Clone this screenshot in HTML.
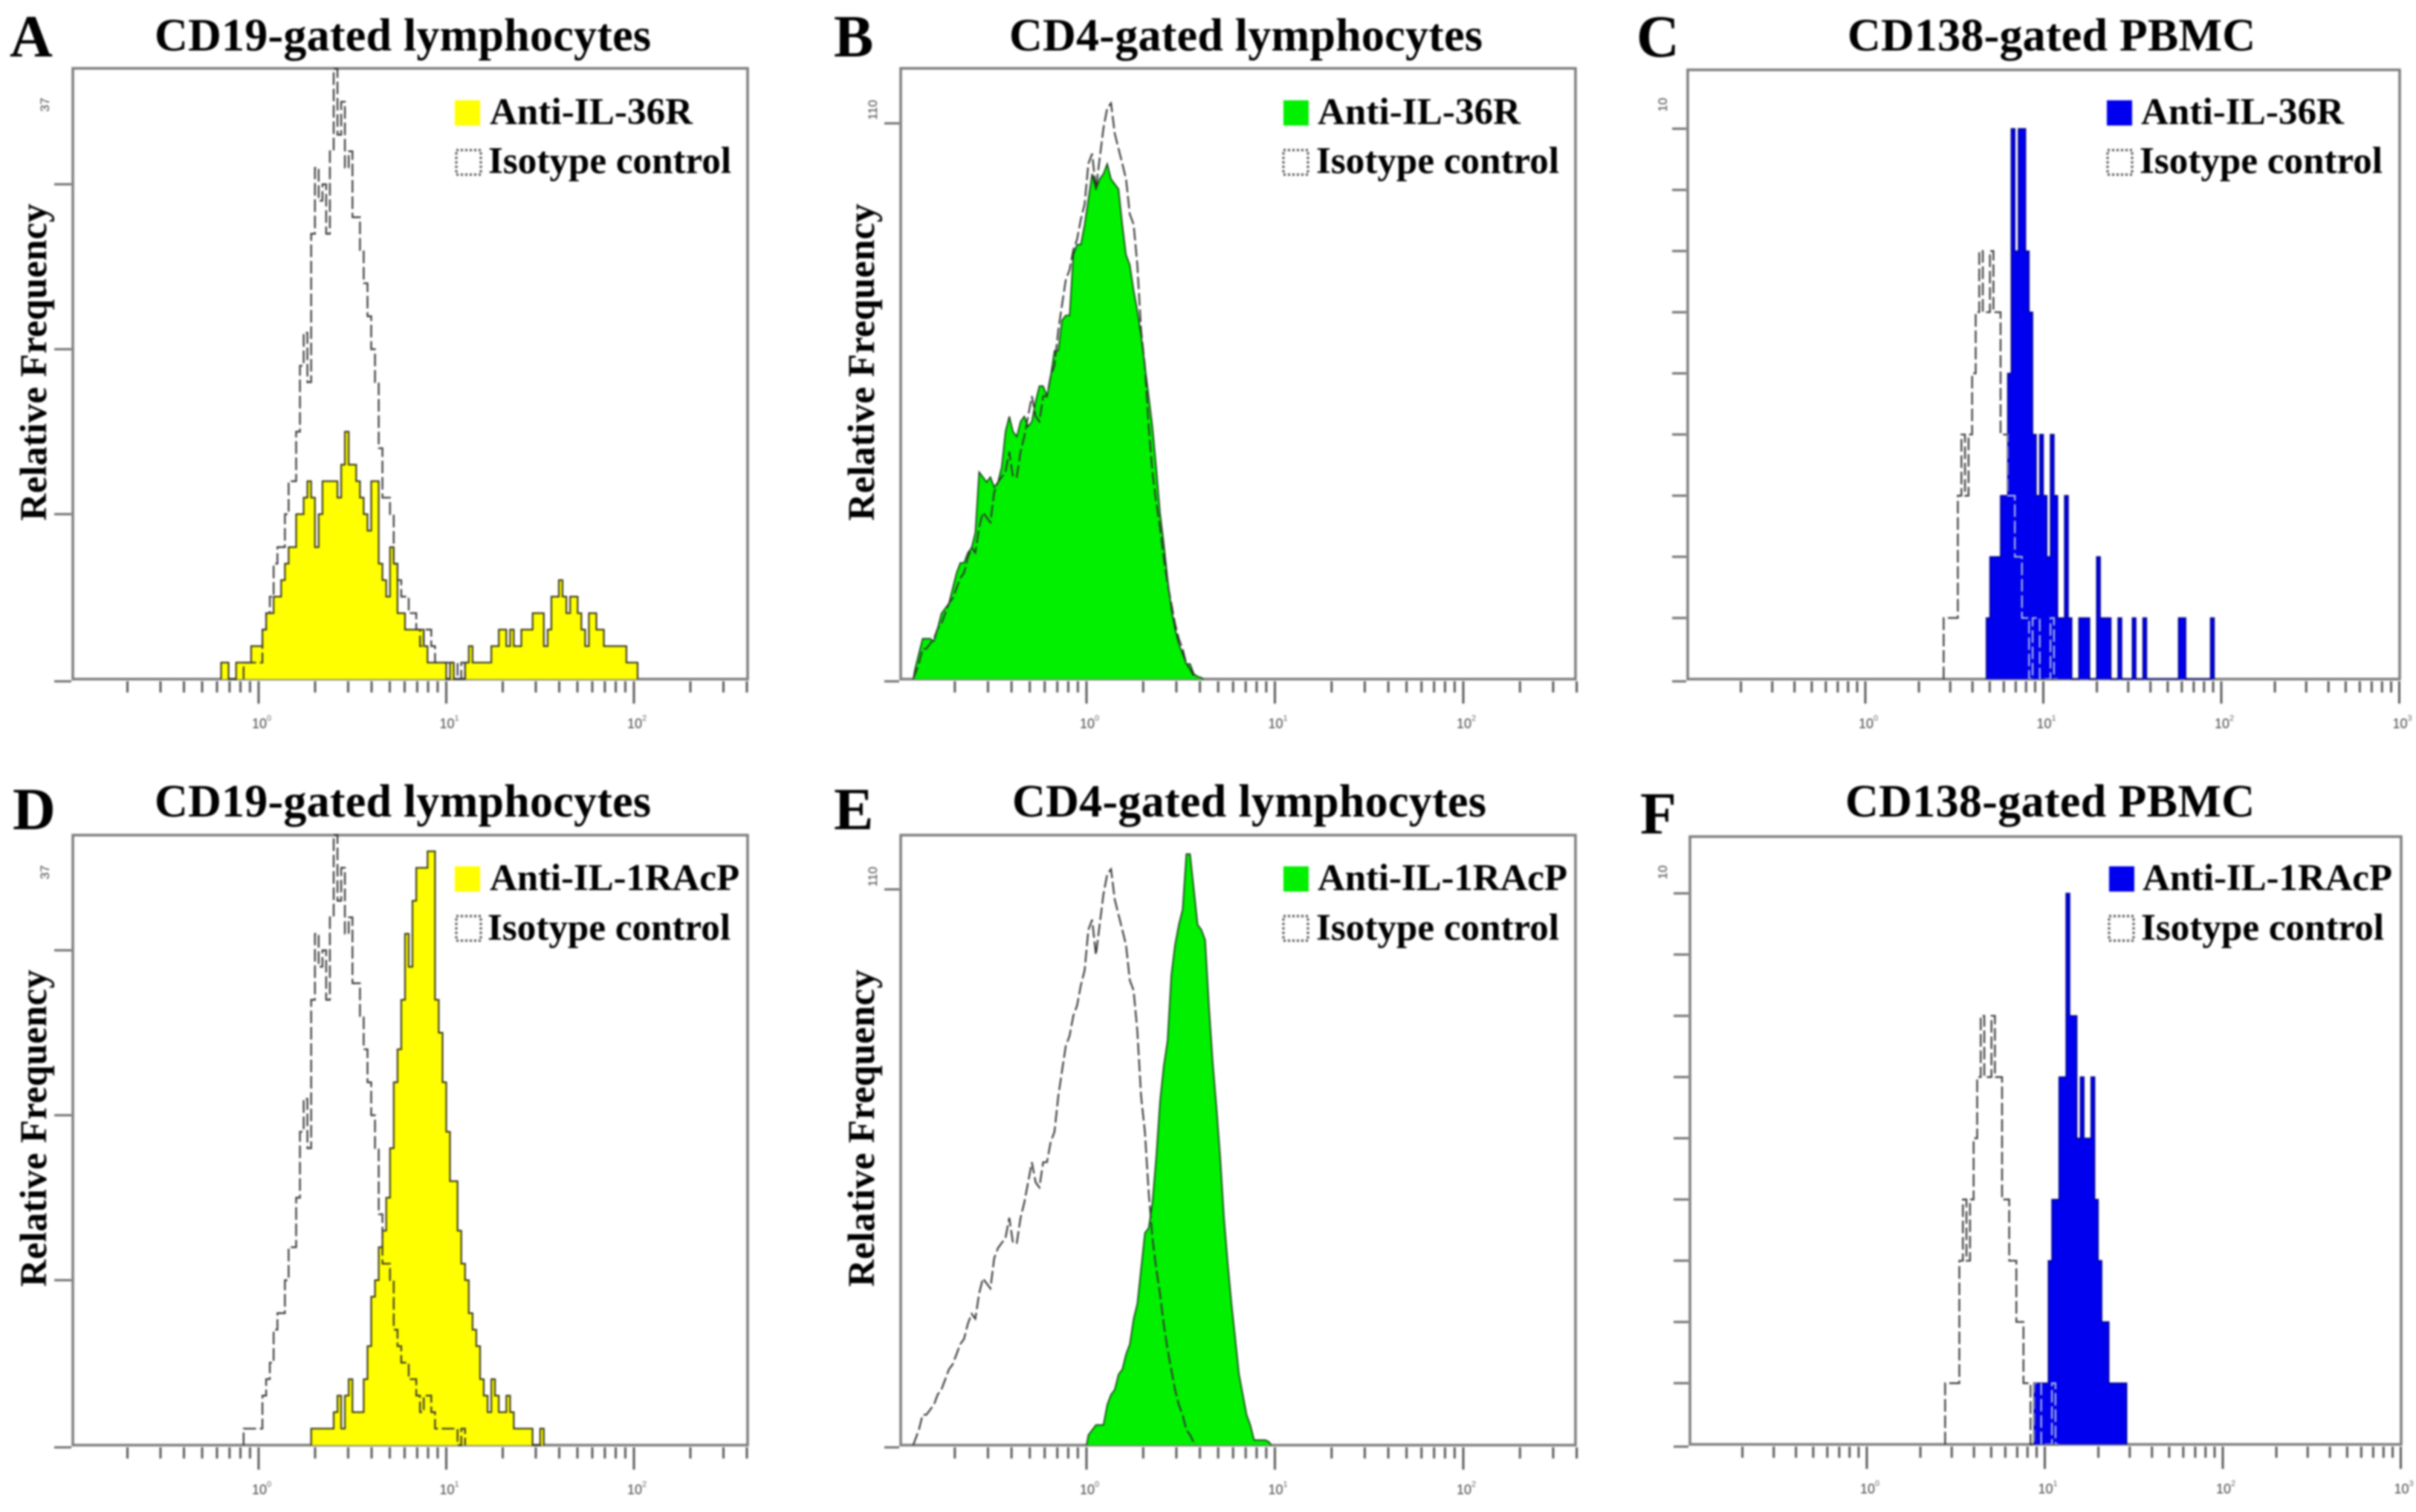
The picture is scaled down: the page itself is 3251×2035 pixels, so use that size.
<!DOCTYPE html>
<html lang="en">
<head>
<meta charset="utf-8">
<title>Flow cytometry histograms</title>
<style>
html,body{margin:0;padding:0;background:#fff;width:3251px;height:2035px;overflow:hidden}
#figure{display:block;filter:blur(1.3px)}
.title{font:bold 62px "Liberation Serif",serif;fill:#000}
.letter{font:bold 80px "Liberation Serif",serif;fill:#000}
.legend{font:bold 51px "Liberation Serif",serif;fill:#000}
.ylab{font:bold 51px "Liberation Serif",serif;fill:#000}
.iso-swatch{fill:none;stroke:#555;stroke-width:3.2;stroke-dasharray:3 3}
</style>
</head>
<body>
<svg id="figure" xmlns="http://www.w3.org/2000/svg" width="3251" height="2035" viewBox="0 0 3251 2035">
  <rect width="3251" height="2035" fill="#fff"/>

  <text class="letter" x="13" y="76">A</text>
  <text class="letter" x="1122" y="76">B</text>
  <text class="letter" x="2202" y="76">C</text>
  <text class="letter" x="17" y="1116">D</text>
  <text class="letter" x="1122" y="1116">E</text>
  <text class="letter" x="2207" y="1122">F</text>

  <text class="title" x="208" y="68" textLength="668" lengthAdjust="spacing">CD19-gated lymphocytes</text>
  <text class="title" x="1358" y="68" textLength="637" lengthAdjust="spacing">CD4-gated lymphocytes</text>
  <text class="title" x="2486" y="68" textLength="549" lengthAdjust="spacing">CD138-gated PBMC</text>
  <text class="title" x="208" y="1099" textLength="668" lengthAdjust="spacing">CD19-gated lymphocytes</text>
  <text class="title" x="1362" y="1099" textLength="638" lengthAdjust="spacing">CD4-gated lymphocytes</text>
  <text class="title" x="2483" y="1099" textLength="551" lengthAdjust="spacing">CD138-gated PBMC</text>

  <text class="ylab" transform="translate(62,701) rotate(-90)" textLength="427" lengthAdjust="spacing">Relative Frequency</text>
  <text class="ylab" transform="translate(1176,701) rotate(-90)" textLength="427" lengthAdjust="spacing">Relative Frequency</text>
  <text class="ylab" transform="translate(62,1732) rotate(-90)" textLength="427" lengthAdjust="spacing">Relative Frequency</text>
  <text class="ylab" transform="translate(1176,1732) rotate(-90)" textLength="427" lengthAdjust="spacing">Relative Frequency</text>

  <g id="plots"></g>

  <g>
    <rect x="612" y="135" width="34" height="34" fill="#ffff00"/>
    <text class="legend" x="659" y="167" textLength="273" lengthAdjust="spacing">Anti-IL-36R</text>
    <rect class="iso-swatch" x="614" y="202" width="33" height="33"/>
    <text class="legend" x="657" y="233" textLength="327" lengthAdjust="spacing">Isotype control</text>
  </g>
  <g>
    <rect x="1727" y="135" width="34" height="34" fill="#00f000"/>
    <text class="legend" x="1773" y="167" textLength="273" lengthAdjust="spacing">Anti-IL-36R</text>
    <rect class="iso-swatch" x="1727" y="202" width="33" height="33"/>
    <text class="legend" x="1771" y="233" textLength="327" lengthAdjust="spacing">Isotype control</text>
  </g>
  <g>
    <rect x="2835" y="135" width="34" height="34" fill="#0000ee"/>
    <text class="legend" x="2881" y="167" textLength="273" lengthAdjust="spacing">Anti-IL-36R</text>
    <rect class="iso-swatch" x="2836" y="202" width="33" height="33"/>
    <text class="legend" x="2879" y="233" textLength="327" lengthAdjust="spacing">Isotype control</text>
  </g>
  <g>
    <rect x="612" y="1166" width="34" height="34" fill="#ffff00"/>
    <text class="legend" x="659" y="1198" textLength="336" lengthAdjust="spacing">Anti-IL-1RAcP</text>
    <rect class="iso-swatch" x="614" y="1233" width="33" height="33"/>
    <text class="legend" x="656" y="1265" textLength="327" lengthAdjust="spacing">Isotype control</text>
  </g>
  <g>
    <rect x="1727" y="1166" width="34" height="34" fill="#00f000"/>
    <text class="legend" x="1773" y="1198" textLength="336" lengthAdjust="spacing">Anti-IL-1RAcP</text>
    <rect class="iso-swatch" x="1727" y="1233" width="33" height="33"/>
    <text class="legend" x="1771" y="1265" textLength="327" lengthAdjust="spacing">Isotype control</text>
  </g>
  <g>
    <rect x="2838" y="1166" width="34" height="34" fill="#0000ee"/>
    <text class="legend" x="2883" y="1198" textLength="336" lengthAdjust="spacing">Anti-IL-1RAcP</text>
    <rect class="iso-swatch" x="2838" y="1233" width="33" height="33"/>
    <text class="legend" x="2881" y="1265" textLength="327" lengthAdjust="spacing">Isotype control</text>
  </g>
</svg>

<script>
// Histogram data: bin width in log10 decades, first-bin positions and per-bin counts.
const binWidth = 0.02;

const startA = -0.20;
const countsA = [1,1,0,0,1,1,1,1,2,2,2,3,4,4,5,5,6,7,8,8,10,10,11,12,11,8,10,12,12,12,12,11,13,15,13,13,12,11,10,9,12,12,7,6,5,8,7,4,4,3,3,3,3,3,2,1,1,1,1,1,0,1,0,0,0,1,2,1,1,1,1,1,2,2,3,3,2,3,2,2,3,3,3,4,4,4,2,3,5,5,6,5,4,5,5,4,3,2,4,4,3,3,2,2,2,2,2,2,1,1,1];

const startIsoA = -0.08;
const countsIsoA = [1,1,1,1,1,3,4,5,7,8,8,10,12,12,15,19,21,18,27,31,29,30,27,32,37,33,35,31,32,28,28,26,24,22,20,18,14,11,11,10,7,6,5,5,4,4,3,2,3,3,2,1,1,1,1,1,1,0,1];

const startB = -0.92;
const countsB = [2,5,8,8,8,7.5,10,13,14,15,18,21,23,23,25,26,29,41,40,39,40,38,39,42,49,52,49,48,51,52,50,51,55,58,58,56,60,65,65,71,72,72,84,86,86,90,95,100,97,99,100,102,99,98,97,90,84,82,77,73,68,62,56,50,42,33,27,20,14,10,7,5,3,3,1,0.5,0.3];

const startIsoB = -0.92;
const countsIsoB = [1,3,6,6,7,8,10,11,13,15,16,18,20,21,24,26,25,30,33,32,31,37,39,40,41,45,40,40,45,48,52,56,52,51,56,56,60,62,69,74,79,81,85,87,91,94,102,104,97,103,109,113,114,108,105,102,99,92,90,82,69,62,50,41,35,30,24,19,15,11,8,6,3,2,0.5];

const startC = 0.68;
const countsC = [1,2,2,2,3,3,5,9,7,9,9,7,6,4,3,4,3,2,4,3,1,1,3,1,0,0,1,1,1,0,0,2,1,1,1,0,0,1,0,0,0,1,0,0,1,0,0,0,0,0,0,0,0,0,1,1,0,0,0,0,0,0,0,1];

const startIsoC = 0.44;
const countsIsoC = [1,1,1,1,3,4,3,4,5,6,7,6,6,7,6,6,4,4,3,3,2,2,1,1,0,1,1,0,0,0,1,0];

const startD = 0.28;
const countsD = [1,1,1,1,1,1,2,3,1,3,4,2,2,2,4,6,9,10,12,13,15,18,22,24,27,31,29,33,35,35,35,36,36,27,25,22,19,16,16,13,11,10,8,7,6,4,3,2,4,3,2,2,3,2,1,1,1,1,1,0,0,1];

const startE = 0.00;
const countsE = [2,3,4,4,4,8,10,11,14,15,18,20,25,28,35,42,43,48,57,68,75,80,93,99,103,106,117,117,110,103,102,100,87,76,67,57,45,36,28,21,14,10,6,4,1,1,1,1,0.6];

const startF = 0.94;
const countsF = [1,1,1,1,3,4,4,6,6,9,7,7,5,6,5,5,6,4,3,2,2,1,1,1,1,1];

// Axis tick data
const xMajorShort = [0,1,2];
const xMajorLong = [0,1,2,3];
const xMinorMultipliers = [2,3,4,5,6,7,8,9];
const yTicksA = [0,10,20,30];
const yTicksB = [0,110];
const yTicksC = [0,1,2,3,4,5,6,7,8,9];
const yMaxA = "37";
const yMaxB = "110";
const yMaxC = "10";

const panels = [
  {id:'a',left:98,right:1006,top:92,bottom:914,x0:348,dec:252.5,unit:22.2,xMin:-1,xMax:2.6,major:xMajorShort,yTicks:yTicksA,yMax:yMaxA,maxLabelX:66,maxLabelY:141,tickX:73,start:startA,counts:countsA,isoStart:startIsoA,iso:countsIsoA,fill:'#ffff00',edge:'#2c2c10',edgeWidth:2,lightIso:false,smooth:false},
  {id:'b',left:1212,right:2120,top:92,bottom:914,x0:1462,dec:253.5,unit:6.8,xMin:-1,xMax:2.6,major:xMajorShort,yTicks:yTicksB,yMax:yMaxB,maxLabelX:1180,maxLabelY:148,tickX:1190,start:startB,counts:countsB,isoStart:startIsoB,iso:countsIsoB,fill:'#00f000',edge:'#0c300c',edgeWidth:1.6,lightIso:false,smooth:true},
  {id:'c',left:2271,right:3229,top:94,bottom:914,x0:2510,dec:239.5,unit:82.3,xMin:-1,xMax:3,major:xMajorLong,yTicks:yTicksC,yMax:yMaxC,maxLabelX:2243,maxLabelY:141,tickX:2250,start:startC,counts:countsC,isoStart:startIsoC,iso:countsIsoC,fill:'#0000ee',edge:'#000088',edgeWidth:1.6,lightIso:true,smooth:false},
  {id:'d',left:98,right:1006,top:1124,bottom:1945,x0:348,dec:252.5,unit:22.2,xMin:-1,xMax:2.6,major:xMajorShort,yTicks:yTicksA,yMax:yMaxA,maxLabelX:66,maxLabelY:1174,tickX:73,start:startD,counts:countsD,isoStart:startIsoA,iso:countsIsoA,fill:'#ffff00',edge:'#2c2c10',edgeWidth:2,lightIso:false,smooth:false},
  {id:'e',left:1212,right:2120,top:1124,bottom:1945,x0:1462,dec:253.5,unit:6.8,xMin:-1,xMax:2.6,major:xMajorShort,yTicks:yTicksB,yMax:yMaxB,maxLabelX:1180,maxLabelY:1180,tickX:1190,start:startE,counts:countsE,isoStart:startIsoB,iso:countsIsoB,fill:'#00f000',edge:'#0c300c',edgeWidth:1.6,lightIso:false,smooth:true},
  {id:'f',left:2274,right:3231,top:1126,bottom:1944,x0:2512,dec:239.5,unit:82.4,xMin:-1,xMax:3,major:xMajorLong,yTicks:yTicksC,yMax:yMaxC,maxLabelX:2243,maxLabelY:1174,tickX:2252,start:startF,counts:countsF,isoStart:startIsoC,iso:countsIsoC,fill:'#0000ee',edge:'#000088',edgeWidth:1.6,lightIso:true,smooth:false}
];

const SVG_NS = 'http://www.w3.org/2000/svg';

function make(tag, attrs, parent) {
  const el = document.createElementNS(SVG_NS, tag);
  for (const k in attrs) el.setAttribute(k, attrs[k]);
  parent.appendChild(el);
  return el;
}

function stepPath(start, counts, xScale, yScale) {
  let d = 'M' + xScale(start).toFixed(1) + ' ' + yScale(0).toFixed(1);
  counts.forEach(function (c, i) {
    const x1 = xScale(start + i * binWidth);
    const x2 = xScale(start + (i + 1) * binWidth);
    const y = yScale(c);
    d += 'L' + x1.toFixed(1) + ' ' + y.toFixed(1) + 'L' + x2.toFixed(1) + ' ' + y.toFixed(1);
  });
  d += 'L' + xScale(start + counts.length * binWidth).toFixed(1) + ' ' + yScale(0).toFixed(1);
  return d;
}

function linePath(start, counts, xScale, yScale) {
  let d = 'M' + xScale(start).toFixed(1) + ' ' + yScale(0).toFixed(1);
  counts.forEach(function (c, i) {
    d += 'L' + xScale(start + (i + 0.5) * binWidth).toFixed(1) + ' ' + yScale(c).toFixed(1);
  });
  d += 'L' + xScale(start + counts.length * binWidth).toFixed(1) + ' ' + yScale(0).toFixed(1);
  return d;
}

const root = document.getElementById('plots');

panels.forEach(function (p) {
  const xScale = function (v) { return p.x0 + p.dec * v; };
  const yScale = function (v) { return p.bottom - p.unit * v; };
  const shape = p.smooth ? linePath : stepPath;

  const g = make('g', {}, root);
  
  

  const fillPathData = shape(p.start, p.counts, xScale, yScale);
  const isoPathData = shape(p.isoStart, p.iso, xScale, yScale);

  const frame = make('rect', {x:p.left, y:p.top, width:p.right-p.left, height:p.bottom-p.top, fill:'#fff', stroke:'#7d7d7d', 'stroke-width':3.5}, g);
  
  

  const hist = make('path', {d:fillPathData, fill:p.fill, stroke:p.edge, 'stroke-width':p.edgeWidth, 'stroke-linejoin':'miter'}, g);
  
  

  const iso = make('path', {d:isoPathData, fill:'none', stroke:'#333', 'stroke-width':2.2, 'stroke-dasharray':'17 5'}, g);
  
  

  if (p.lightIso) {
    const clip = make('clipPath', {id:'fill-clip-' + p.id}, g);
    make('path', {d:fillPathData}, clip);
    const overlay = make('path', {d:isoPathData, fill:'none', stroke:'#b8c8ff', 'stroke-width':2, 'stroke-dasharray':'17 5', 'clip-path':'url(#fill-clip-' + p.id + ')'}, g);
    
    
  }

  // X ticks
  for (let e = Math.floor(p.xMin); e <= p.xMax; e++) {
    xMinorMultipliers.forEach(function (m) {
      const lv = e + Math.log10(m);
      if (lv > p.xMax + 0.01) return;
      const x = xScale(lv);
      const t = make('line', {x1:x, x2:x, y1:p.bottom+3, y2:p.bottom+18, stroke:'#5a5a5a', 'stroke-width':3}, g);
      
      
    });
  }
  p.major.forEach(function (e) {
    const x = xScale(e);
    const t = make('line', {x1:x, x2:x, y1:p.bottom+3, y2:p.bottom+33, stroke:'#5a5a5a', 'stroke-width':3}, g);
    
    
    const label = make('text', {x:x-9, y:p.bottom+66, fill:'#444', 'font-family':'"Liberation Sans", sans-serif', 'font-size':18}, g);
    
    
    label.textContent = '10';
    const sup = make('text', {x:x+11, y:p.bottom+56, fill:'#666', 'font-family':'"Liberation Sans", sans-serif', 'font-size':11}, g);
    
    
    sup.textContent = String(e);
  });

  // Y ticks
  p.yTicks.forEach(function (v) {
    const y = yScale(v) + (v === 0 ? 3 : 0);
    const t = make('line', {x1:p.tickX, x2:p.left-2, y1:y, y2:y, stroke:'#707070', 'stroke-width':3}, g);
    
    
  });
  const maxLabel = make('text', {transform:'translate(' + p.maxLabelX + ',' + p.maxLabelY + ') rotate(-90)', fill:'#444', 'font-family':'"Liberation Sans", sans-serif', 'font-size':17, 'text-anchor':'middle'}, g);
  
  
  maxLabel.textContent = p.yMax;
});
</script>
</body>
</html>
